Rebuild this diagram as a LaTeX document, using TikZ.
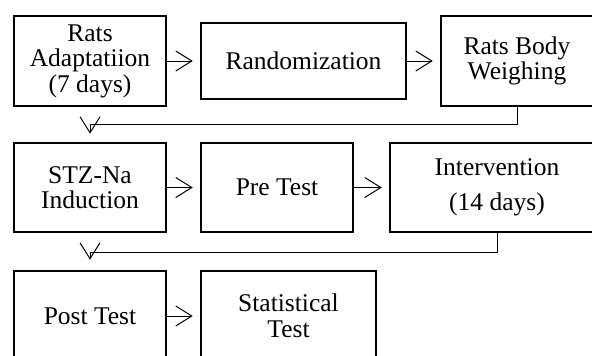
\documentclass[tikz,border=0pt]{standalone}
\usepackage{fontspec}
\setmainfont{Liberation Serif}
\usetikzlibrary{arrows.meta}

\begin{document}
\begin{tikzpicture}[x=1pt, y=-1pt,
    box/.style={draw, line width=2.6pt, inner sep=0pt, align=center,
      font=\fontsize{25.5}{25.5}\selectfont},
    link/.style={line width=1pt}]
  \tikzset{>={Straight Barb[length=16pt, width=20pt]}}
  \useasboundingbox (0,0) rectangle (592,356);
  \clip (0,0) rectangle (592,356);
  %
  \node [box, minimum width=152pt, minimum height=90pt] (adapt) at (90,61) {Rats\\Adaptatiion\\(7 days)};
  \node [box, minimum width=205pt, minimum height=76pt] (rand) at (303.5,61) {Randomization};
  \node [box, minimum width=152pt, minimum height=90pt] (weigh) at (517,61) {Rats Body\\Weighing};
  %
  \node [box, minimum width=152pt, minimum height=89pt] (induct) at (90,187.5) {STZ-Na\\Induction};
  \node [box, minimum width=152pt, minimum height=89pt] (pretest) at (277,187.5) {Pre Test};
  \node [box, minimum width=214pt, minimum height=89pt] (interv) at (497,187.5) {Intervention\\[10pt](14 days)};
  %
  \node [box, minimum width=152pt, minimum height=90pt] (posttest) at (90,316) {Post Test};
  \node [box, minimum width=175pt, minimum height=90pt] (stattest) at (288.5,316) {Statistical\\Test};
  %
  \foreach \a/\b in {adapt/rand, rand/weigh, induct/pretest, pretest/interv, posttest/stattest} {
    \draw [link, ->, shorten >=7pt] (\a) -- (\b);
  }
  \draw [link, ->, shorten >=8pt] (weigh.south) -- ++(0,17) -| (induct.north);
  \draw [link, ->, shorten >=10pt] (interv.south) -- ++(0,19) -| (posttest.north);
\end{tikzpicture}
\end{document}
